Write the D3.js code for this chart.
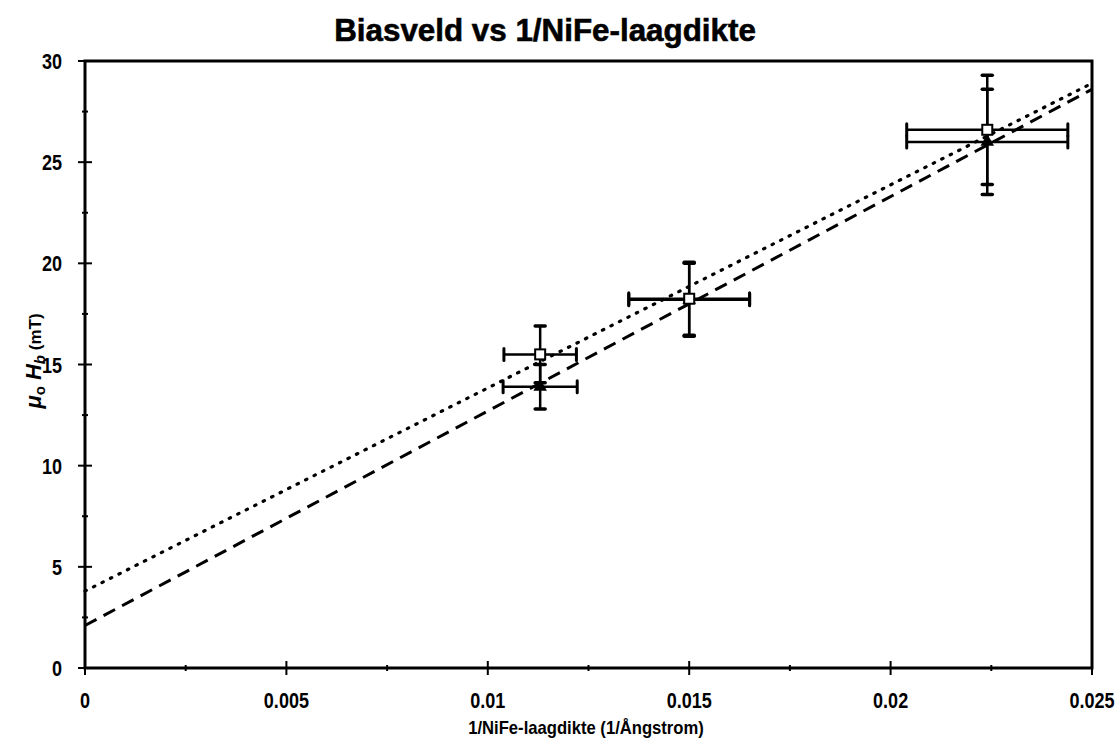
<!DOCTYPE html>
<html><head><meta charset="utf-8">
<script src="https://cdn.jsdelivr.net/npm/d3@7"></script>
<style>body{margin:0;background:#fff}svg{display:block}</style>
</head><body>
<script>
// ---- data ----
const xTicks = [0, 0.005, 0.01, 0.015, 0.02, 0.025];
const xTickLabels = ["0", "0.005", "0.01", "0.015", "0.02", "0.025"];
const yTicks = [0, 5, 10, 15, 20, 25, 30];
const yTickLabels = ["0", "5", "10", "15", "20", "25", "30"];
const xVals = [0.0113, 0.015, 0.0224];
const squareY = [15.5, 18.25, 26.6];
const squareYErr = [1.4, 1.8, 2.7];
const squareXErr = [0.0009, 0.0015, 0.002];
const filledY = [13.9, 18.2, 26.0];
const filledYErr = [1.1, 1.8, 2.6];
const filledXErr = [0.00092, 0.0015, 0.002];
const fitX = [0, 0.025];
const fitDotted = [3.8, 28.9];
const fitDashed = [2.1, 28.6];

const W = 1120, H = 744;
const svg = d3.select("body").append("svg").attr("width", W).attr("height", H);
const x = d3.scaleLinear().domain([0, 0.025]).range([85, 1092]);
const y = d3.scaleLinear().domain([0, 30]).range([668, 61]);
const font = "'Liberation Sans',Arial,sans-serif";
const SX = 0.82;

// title
svg.append("text").attr("transform", "translate(545,41) scale(0.98,1)").attr("text-anchor", "middle")
  .style("font-family", font).style("font-weight", "bold")
  .style("font-size", "32px").attr("stroke", "#000").attr("stroke-width", 0.6)
  .text("Biasveld vs 1/NiFe-laagdikte");

// frame
const g = svg.append("g");
g.append("rect").attr("x", x(0)).attr("y", y(30)).attr("width", x(0.025) - x(0)).attr("height", y(0) - y(30))
  .attr("fill", "none").attr("stroke", "#000").attr("stroke-width", 3);

// ticks
const xMinor = d3.range(0, 0.02501, 0.0025);
const yMinor = d3.range(0, 30.01, 2.5);
g.selectAll(".xt").data(xMinor).enter().append("line")
  .attr("x1", d => x(d)).attr("x2", d => x(d))
  .attr("y1", (d, i) => y(0) - (i % 2 === 0 ? 7 : 3)).attr("y2", (d, i) => y(0) + (i % 2 === 0 ? 7 : 3))
  .attr("stroke", "#000").attr("stroke-width", 2);
g.selectAll(".yt").data(yMinor).enter().append("line")
  .attr("y1", d => y(d)).attr("y2", d => y(d))
  .attr("x1", (d, i) => x(0) - (i % 2 === 0 ? 7 : 3)).attr("x2", (d, i) => x(0) + (i % 2 === 0 ? 7 : 3))
  .attr("stroke", "#000").attr("stroke-width", 2);

// tick labels (condensed)
g.selectAll(".xl").data(xTicks).enter().append("text")
  .attr("transform", d => `translate(${x(d)},708) scale(${SX},1)`).attr("text-anchor", "middle")
  .style("font-family", font).style("font-weight", "bold").style("font-size", "22px")
  .text((d, i) => xTickLabels[i]);
g.selectAll(".yl").data(yTicks).enter().append("text")
  .attr("transform", d => `translate(62,${y(d) + 8}) scale(${SX},1)`).attr("text-anchor", "end")
  .style("font-family", font).style("font-weight", "bold").style("font-size", "22px")
  .text((d, i) => yTickLabels[i]);

// axis titles
svg.append("text").attr("transform", `translate(586,734) scale(0.9,1)`).attr("text-anchor", "middle")
  .style("font-family", font).style("font-size", "18.5px").style("font-weight", "bold")
  .text("1/NiFe-laagdikte (1/Ångstrom)");
const yl = svg.append("text").attr("transform", "translate(41,361) rotate(-90)").attr("text-anchor", "middle")
  .style("font-family", font).style("font-size", "22px").style("font-weight", "bold");
yl.append("tspan").style("font-style", "italic").text("μ");
yl.append("tspan").attr("dy", 4).style("font-size", "15px").text("o");
yl.append("tspan").attr("dy", -4).style("font-style", "italic").text(" H");
yl.append("tspan").attr("dy", 4).style("font-size", "15px").style("font-style", "italic").text("b");
yl.append("tspan").attr("dy", -4).style("font-size", "17px").text(" (mT)");

// fit lines
const line = d3.line().x(d => x(d[0])).y(d => y(d[1]));
g.append("path").datum(fitX.map((v, i) => [v, fitDotted[i]])).attr("d", line)
  .attr("fill", "none").attr("stroke", "#000").attr("stroke-width", 3.2)
  .attr("stroke-dasharray", "1.5,8").attr("stroke-linecap", "round");
g.append("path").datum(fitX.map((v, i) => [v, fitDashed[i]])).attr("d", line)
  .attr("fill", "none").attr("stroke", "#000").attr("stroke-width", 3)
  .attr("stroke-dasharray", "13,8");

// error bars
function errorBars(ys, yErr, xErr) {
  const eg = g.append("g").attr("stroke", "#000");
  xVals.forEach((xv, i) => {
    const cx = x(xv), cy = y(ys[i]);
    const y1 = y(ys[i] + yErr[i]), y2 = y(ys[i] - yErr[i]);
    const x1 = x(xv - xErr[i]), x2 = x(xv + xErr[i]);
    eg.append("line").attr("x1", cx).attr("x2", cx).attr("y1", y1).attr("y2", y2).attr("stroke-width", 2.5);
    eg.append("line").attr("x1", x1).attr("x2", x2).attr("y1", cy).attr("y2", cy).attr("stroke-width", 2.5);
    [y1, y2].forEach(v => eg.append("line").attr("x1", cx - 5).attr("x2", cx + 5).attr("y1", v).attr("y2", v)
      .attr("stroke-width", 3.5).attr("stroke-linecap", "round"));
    [x1, x2].forEach(v => eg.append("line").attr("x1", v).attr("x2", v).attr("y1", cy - 6).attr("y2", cy + 6)
      .attr("stroke-width", 3).attr("stroke-linecap", "round"));
  });
}
errorBars(filledY, filledYErr, filledXErr);
errorBars(squareY, squareYErr, squareXErr);

// markers
g.selectAll(".tri").data(xVals).enter().append("path")
  .attr("d", d3.symbol(d3.symbolTriangle, 80))
  .attr("transform", (d, i) => `translate(${x(d)},${y(filledY[i])})`).attr("fill", "#000");
g.selectAll(".sq").data(xVals).enter().append("rect")
  .attr("x", d => x(d) - 5).attr("y", (d, i) => y(squareY[i]) - 5).attr("width", 10).attr("height", 10)
  .attr("fill", "#fff").attr("stroke", "#000").attr("stroke-width", 2);
</script>
</body></html>
